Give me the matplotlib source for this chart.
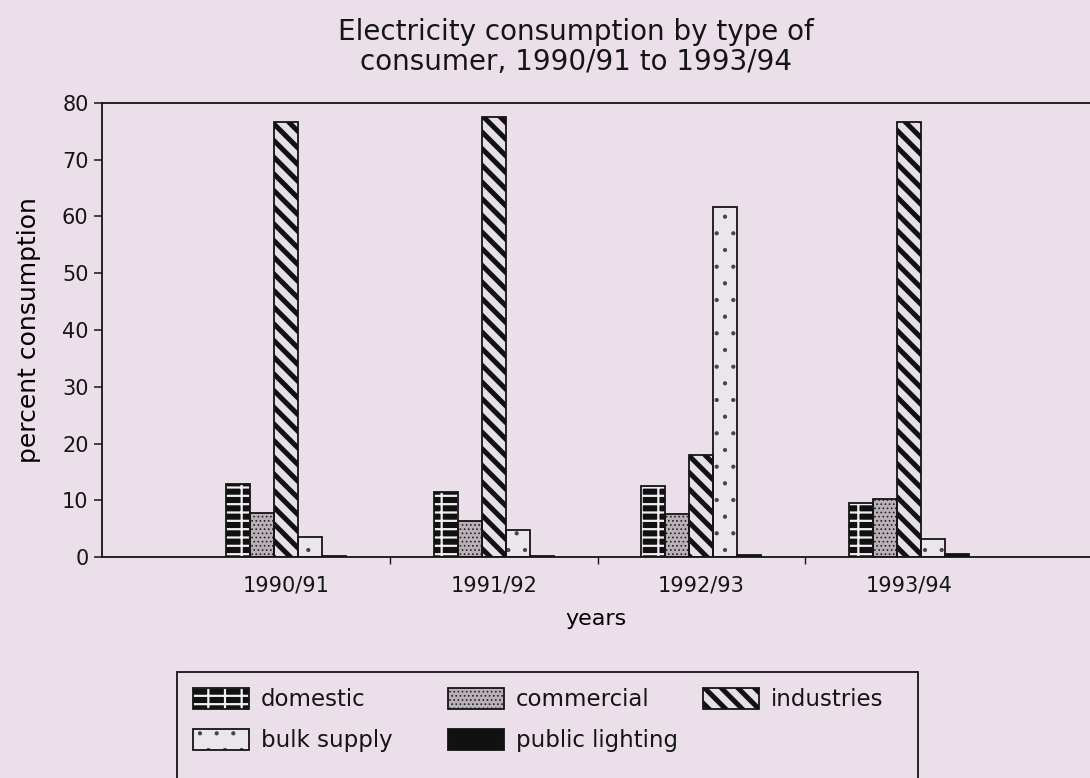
import matplotlib
matplotlib.use("Agg")
import matplotlib.pyplot as plt
from matplotlib.patches import Patch, Rectangle
from matplotlib.legend_handler import HandlerTuple
import numpy as np

# ---------------- data ----------------
years = ["1990/91", "1991/92", "1992/93", "1993/94"]
series_names = ["domestic", "commercial", "industries", "bulk supply", "public lighting"]
domestic = [12.9, 11.5, 12.5, 9.6]
commercial = [7.7, 6.3, 7.5, 10.3]
industries = [76.6, 77.6, 18.0, 76.6]
bulk_supply = [3.6, 4.7, 61.7, 3.1]
public_lighting = [0.2, 0.2, 0.4, 0.5]
y_ticks = [0, 10, 20, 30, 40, 50, 60, 70, 80]
title_text = "Electricity consumption by type of\nconsumer, 1990/91 to 1993/94"
x_label = "years"
y_label = "percent consumption"

# ---------------- style ----------------
BG = "#ebe0e9"
INK = "#151515"
plt.rcParams["font.family"] = ["DejaVu Sans"]
plt.rcParams["text.color"] = INK

styles = [
    dict(face="#111111", hcolor="#f2eef2", hatch="--|", hlw=1.6),   # domestic (brick)
    dict(face="#b9b1b7", hcolor="#222222", hatch="....", hlw=0.7),  # commercial (stipple)
    dict(face="#e6e0e6", hcolor="#111111", hatch="\\\\", hlw=3.6),  # industries (stripes)
    dict(face="#ebe6ec", hcolor="#444444", hatch=".", hlw=0.6),     # bulk supply (sparse dots)
    dict(face="#111111", hcolor="#111111", hatch="", hlw=1.0),      # public lighting (solid)
]

W_PX, H_PX = 1090, 778
fig = plt.figure(figsize=(W_PX / 100, H_PX / 100), dpi=100, facecolor=BG)

ax_left, ax_right = 101.7 / W_PX, 1.0
ax_top, ax_bottom = 1 - 103 / H_PX, 1 - 557 / H_PX
ax = fig.add_axes([ax_left, ax_bottom, ax_right - ax_left, ax_top - ax_bottom], facecolor=BG)

x = np.arange(len(years))
n = len(series_names)
bw = 0.1156
offsets = (np.arange(n) - (n - 1) / 2) * bw
series = [domestic, commercial, industries, bulk_supply, public_lighting]

legend_handles = []
for i, (vals, st) in enumerate(zip(series, styles)):
    bars = ax.bar(x + offsets[i], vals, width=bw, facecolor=st["face"],
                  edgecolor=st["hcolor"], hatch=st["hatch"] or None, linewidth=0, zorder=2)
    for b in bars:
        if hasattr(b, "set_hatch_linewidth"):
            b.set_hatch_linewidth(st["hlw"])
    ax.bar(x + offsets[i], vals, width=bw, facecolor="none", edgecolor=INK,
           linewidth=1.3, zorder=3)
    h1 = Patch(facecolor=st["face"], edgecolor=st["hcolor"], hatch=st["hatch"] or None, linewidth=0)
    h2 = Patch(facecolor="none", edgecolor=INK, linewidth=1.3)
    legend_handles.append((h1, h2))

ax.set_xlim(-0.887, 3.871)
ax.set_ylim(0, 80)
ax.set_yticks(y_ticks)
ax.set_yticklabels([str(t) for t in y_ticks])
ax.set_xticks(x)
ax.set_xticklabels(years)
ax.set_xticks(x[:-1] + 0.5, minor=True)

ax.tick_params(axis="y", direction="out", length=6, width=1.1, pad=3.5, labelsize=15, colors=INK)
ax.tick_params(axis="x", which="major", length=0, pad=13, labelsize=15, colors=INK)
ax.tick_params(axis="x", which="minor", direction="out", length=5, width=1.0, colors=INK)

for side in ["left", "top", "bottom"]:
    ax.spines[side].set_linewidth(1.3)
    ax.spines[side].set_color(INK)
ax.spines["right"].set_visible(False)

ax.set_xlabel(x_label, fontsize=16, labelpad=10)
ax.set_ylabel(y_label, fontsize=18, labelpad=15)

fig.text(0.528, 1 - 47 / H_PX, title_text, ha="center", va="center",
         fontsize=20, linespacing=1.1)

# legend: one column per group of entries, placed like the reference
hlw_by_hatch = {st["hatch"]: st["hlw"] for st in styles if st["hatch"]}
columns = [([0, 3], 193), ([1, 4], 448), ([2], 703)]
for idxs, xpx in columns:
    leg = fig.legend(handles=[legend_handles[k] for k in idxs],
                     labels=[series_names[k] for k in idxs],
                     ncol=1, loc="upper left", bbox_to_anchor=(xpx / W_PX, 1 - 688 / H_PX),
                     frameon=False, fontsize=16.5, handlelength=2.45, handleheight=1.03,
                     handletextpad=0.5, labelspacing=0.76,
                     borderpad=0, borderaxespad=0,
                     handler_map={tuple: HandlerTuple(ndivide=1, pad=0)})
    for r in leg.findobj(Rectangle):
        hp = r.get_hatch()
        if hp in hlw_by_hatch and hasattr(r, "set_hatch_linewidth"):
            r.set_hatch_linewidth(hlw_by_hatch[hp])

# legend frame (bottom edge lies outside the cropped page)
fig.add_artist(Rectangle((177 / W_PX, -0.05), (918 - 177) / W_PX, (1 - 672 / H_PX) + 0.05,
                         transform=fig.transFigure, fill=False, linewidth=1.3,
                         edgecolor=INK, clip_on=False))

fig.savefig("out.png", dpi=100, facecolor=BG)
